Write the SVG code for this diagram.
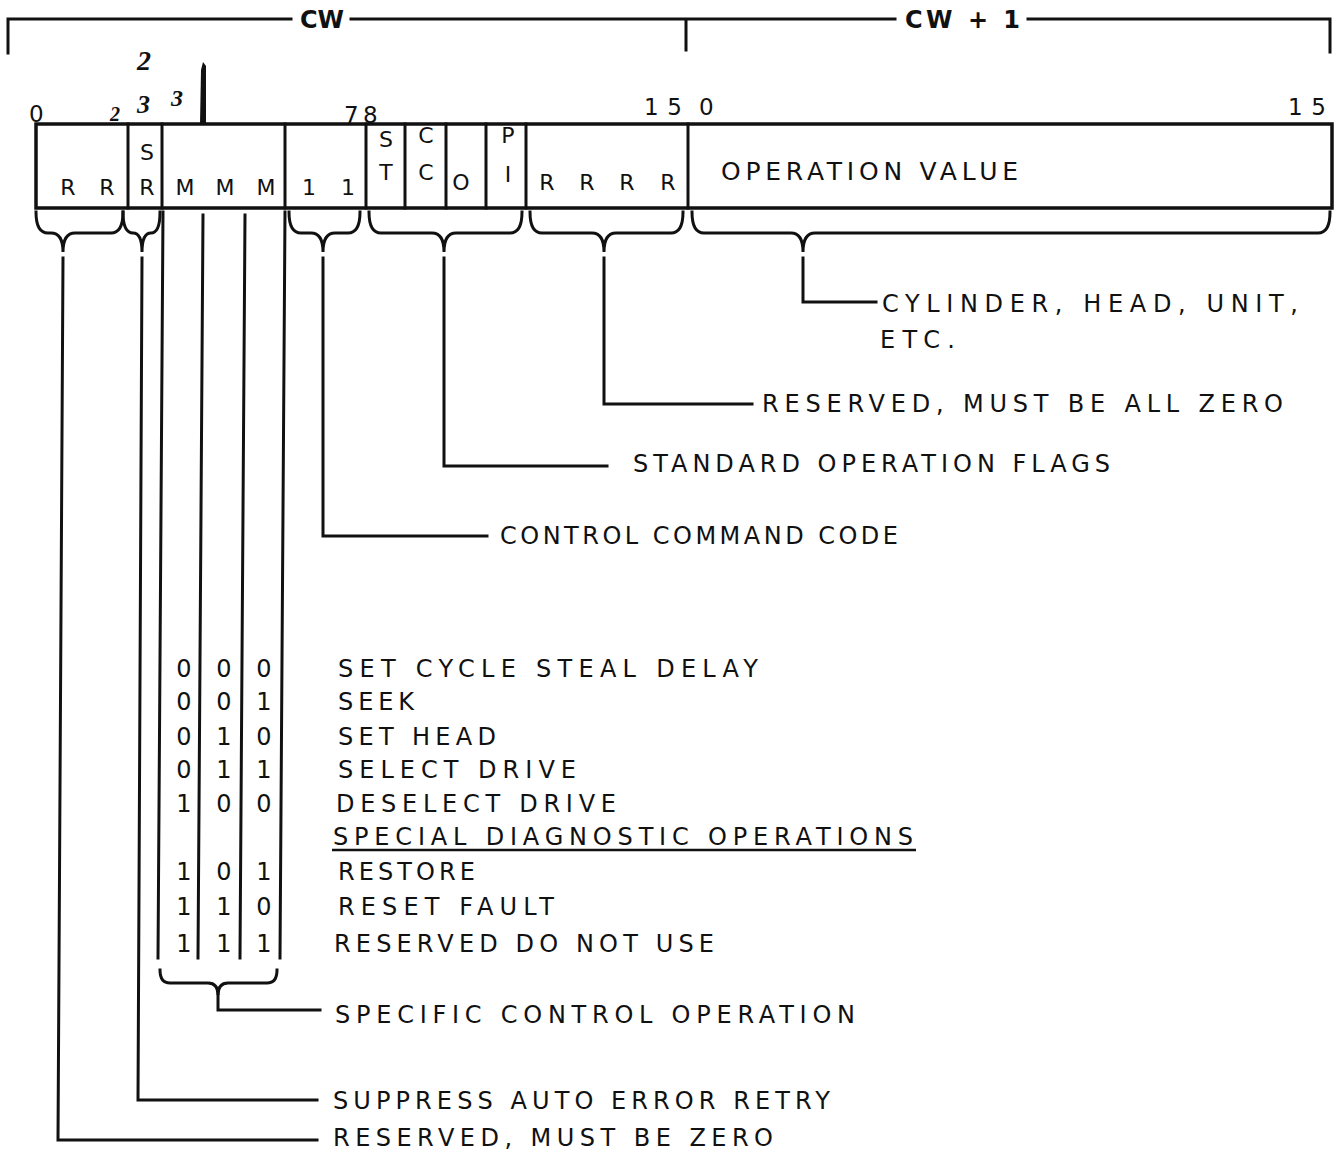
<svg xmlns="http://www.w3.org/2000/svg" width="1336" height="1153" viewBox="0 0 1336 1153">
<style>
.t{font-family:"DejaVu Sans","Verdana","Liberation Sans",sans-serif;fill:#111}
.lbl{font-size:24px}
.bx{font-size:22px;text-anchor:middle}
.num{font-size:23px}
.dg{font-size:24px;text-anchor:middle}
.hdr{font-size:24px;font-weight:bold}
.ov{font-size:25px}
.hw{font-family:"Liberation Serif","DejaVu Serif",serif;font-style:italic;font-weight:bold;fill:#111}
.ln{stroke:#111;stroke-width:3;fill:none;stroke-linecap:square}
.bl{stroke:#111;stroke-width:3.5;fill:none}
</style>
<rect width="1336" height="1153" fill="#fff"/>

<g id="header">
  <path class="ln" d="M8,53 L8,19 L291,19 M351,19 L895,19 M1028,19 L1330,19 L1330,52 M686,19 L686,50"/>
  <text class="t hdr" x="300" y="28">CW</text>
  <text class="t hdr" x="905" y="28" textLength="115" lengthAdjust="spacing">CW + 1</text>
</g>

<g id="bit-numbers">
  <text class="t num" x="29" y="122">0</text>
  <text class="t num" x="344" y="123">7</text>
  <text class="t num" x="363" y="123">8</text>
  <text class="t num" x="644" y="115" textLength="38" lengthAdjust="spacing">15</text>
  <text class="t num" x="699" y="115">0</text>
  <text class="t num" x="1288" y="115" textLength="38" lengthAdjust="spacing">15</text>
</g>

<g id="handwriting">
  <text class="hw" x="110" y="121" font-size="20">2</text>
  <text class="hw" x="137" y="113" font-size="26">3</text>
  <text class="hw" x="171" y="106" font-size="24">3</text>
  <text class="hw" x="137" y="70" font-size="28">2</text>
  <path d="M200,124 L201,70 L203,62 L206,66 L206,124 Z" fill="#111"/>
</g>

<g id="cw-box">
  <rect class="bl" x="36" y="124" width="1296" height="84"/>
  <path class="ln" d="M128,124 L128,208 M162,124 L162,208 M285,124 L285,208 M366,124 L366,208 M405,124 L405,208 M446,124 L446,208 M486,124 L486,208 M526,124 L526,208 M688,124 L688,208"/>
</g>

<g id="field-rr">
  <text class="t bx" x="68" y="195">R</text>
  <text class="t bx" x="107" y="195">R</text>
</g>
<g id="field-sr">
  <text class="t bx" x="147" y="160">S</text>
  <text class="t bx" x="147" y="195">R</text>
</g>
<g id="field-mmm">
  <text class="t bx" x="185" y="195">M</text>
  <text class="t bx" x="225" y="195">M</text>
  <text class="t bx" x="266" y="195">M</text>
</g>
<g id="field-11">
  <text class="t bx" x="309" y="195">1</text>
  <text class="t bx" x="348" y="195">1</text>
</g>
<g id="field-st">
  <text class="t bx" x="386" y="147">S</text>
  <text class="t bx" x="386" y="180">T</text>
</g>
<g id="field-cc">
  <text class="t bx" x="426" y="143">C</text>
  <text class="t bx" x="426" y="180">C</text>
</g>
<g id="field-o">
  <text class="t bx" x="461" y="190">O</text>
</g>
<g id="field-pi">
  <text class="t bx" x="508" y="143">P</text>
  <text class="t bx" x="508" y="182">I</text>
</g>
<g id="field-rrrr">
  <text class="t bx" x="547" y="190">R</text>
  <text class="t bx" x="587" y="190">R</text>
  <text class="t bx" x="627" y="190">R</text>
  <text class="t bx" x="668" y="190">R</text>
</g>
<g id="field-opvalue">
  <text class="t ov" x="721" y="180" textLength="297" lengthAdjust="spacing">OPERATION VALUE</text>
</g>

<g id="braces">
  <path class="ln" d="M36,212 Q36,233 48,233 L51,233 Q63,233 63,252 Q63,233 75,233 L111,233 Q123,233 123,212"/>
  <path class="ln" d="M123,212 Q123,233 133,233 Q142,233 142,252 Q142,233 151,233 Q160,233 160,212"/>
  <path class="ln" d="M289,212 Q289,233 301,233 L311,233 Q323,233 323,252 Q323,233 335,233 L348,233 Q360,233 360,212"/>
  <path class="ln" d="M369,212 Q369,233 381,233 L432,233 Q444,233 444,252 Q444,233 456,233 L510,233 Q522,233 522,212"/>
  <path class="ln" d="M530,212 Q530,233 542,233 L592,233 Q604,233 604,252 Q604,233 616,233 L671,233 Q683,233 683,212"/>
  <path class="ln" d="M692,212 Q692,233 704,233 L791,233 Q803,233 803,252 Q803,233 815,233 L1318,233 Q1330,233 1330,212"/>
  <path class="ln" d="M160,970 Q160,983 170,983 L208,983 Q218,983 218,995 Q218,983 228,983 L267,983 Q277,983 277,970"/>
</g>

<g id="connectors">
  <path class="ln" d="M63,258 L58,1140 L317,1140"/>
  <path class="ln" d="M142,258 L138,1100 L317,1100"/>
  <path class="ln" d="M218,995 L218,1010 L320,1010"/>
  <path class="ln" d="M323,258 L323,536 L487,536"/>
  <path class="ln" d="M444,258 L444,466 L607,466"/>
  <path class="ln" d="M604,258 L604,404 L752,404"/>
  <path class="ln" d="M803,258 L803,302 L876,302"/>
  <path class="ln" d="M163,212 L158,958 M203,215 L198,958 M245,215 L240,958 M285,212 L280,958"/>
</g>

<g id="labels" class="t lbl">
  <text x="882" y="312" textLength="416" lengthAdjust="spacing">CYLINDER, HEAD, UNIT,</text>
  <text x="880" y="348" textLength="75" lengthAdjust="spacing">ETC.</text>
  <text x="762" y="412" textLength="521" lengthAdjust="spacing">RESERVED, MUST BE ALL ZERO</text>
  <text x="633" y="472" textLength="477" lengthAdjust="spacing">STANDARD OPERATION FLAGS</text>
  <text x="500" y="544" textLength="398" lengthAdjust="spacing">CONTROL COMMAND CODE</text>
  <text x="335" y="1023" textLength="520" lengthAdjust="spacing">SPECIFIC CONTROL OPERATION</text>
  <text x="333" y="1109" textLength="497" lengthAdjust="spacing">SUPPRESS AUTO ERROR RETRY</text>
  <text x="333" y="1146" textLength="440" lengthAdjust="spacing">RESERVED, MUST BE ZERO</text>
</g>

<g id="op-table">
  <g class="t dg">
    <text x="184" y="677">0</text><text x="224" y="677">0</text><text x="264" y="677">0</text>
    <text x="184" y="710">0</text><text x="224" y="710">0</text><text x="264" y="710">1</text>
    <text x="184" y="745">0</text><text x="224" y="745">1</text><text x="264" y="745">0</text>
    <text x="184" y="778">0</text><text x="224" y="778">1</text><text x="264" y="778">1</text>
    <text x="184" y="812">1</text><text x="224" y="812">0</text><text x="264" y="812">0</text>
    <text x="184" y="880">1</text><text x="224" y="880">0</text><text x="264" y="880">1</text>
    <text x="184" y="915">1</text><text x="224" y="915">1</text><text x="264" y="915">0</text>
    <text x="184" y="952">1</text><text x="224" y="952">1</text><text x="264" y="952">1</text>
  </g>
  <g class="t lbl">
    <text x="338" y="677" textLength="420" lengthAdjust="spacing">SET CYCLE STEAL DELAY</text>
    <text x="338" y="710" textLength="76" lengthAdjust="spacing">SEEK</text>
    <text x="338" y="745" textLength="158" lengthAdjust="spacing">SET HEAD</text>
    <text x="338" y="778" textLength="238" lengthAdjust="spacing">SELECT DRIVE</text>
    <text x="336" y="812" textLength="280" lengthAdjust="spacing">DESELECT DRIVE</text>
    <text x="333" y="845" textLength="580" lengthAdjust="spacing">SPECIAL DIAGNOSTIC OPERATIONS</text>
    <text x="338" y="880" textLength="137" lengthAdjust="spacing">RESTORE</text>
    <text x="338" y="915" textLength="216" lengthAdjust="spacing">RESET FAULT</text>
    <text x="334" y="952" textLength="380" lengthAdjust="spacing">RESERVED DO NOT USE</text>
  </g>
  <line x1="332" y1="850" x2="916" y2="850" stroke="#111" stroke-width="2.5"/>
</g>
</svg>
